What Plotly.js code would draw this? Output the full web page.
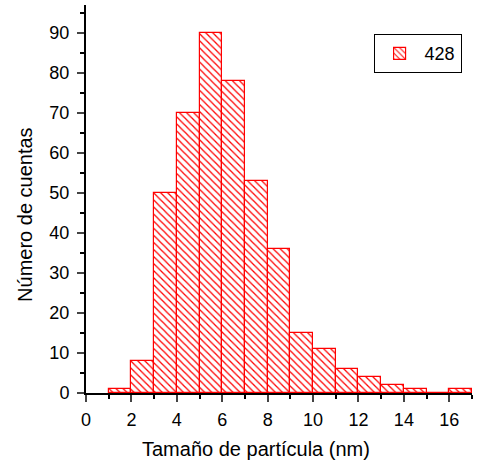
<!DOCTYPE html>
<html><head><meta charset="utf-8">
<script src="https://cdn.plot.ly/plotly-3.0.1.min.js"></script>
<style>body{margin:0;padding:0;background:#fff}</style>
</head><body><div id="chart" style="width:477px;height:467px"></div>
<script>
const binCenters = [1.5,2.5,3.5,4.5,5.5,6.5,7.5,8.5,9.5,10.5,11.5,12.5,13.5,14.5,15.5,16.5];
const counts = [1,8,50,70,90,78,53,36,15,11,6,4,2,1,0,1];
const seriesName = '428';
const xTickVals = [0,2,4,6,8,10,12,14,16];
const yTickVals = [0,10,20,30,40,50,60,70,80,90];
const xTitle = 'Tamaño de partícula (nm)';
const yTitle = 'Número de cuentas';

const trace = {
  type:'bar', x: binCenters, y: counts, width: 1, name: seriesName,
  marker:{color:'#ffffff', line:{color:'#ff0000', width:1.2},
    pattern:{shape:'\\', fgcolor:'#ff0000', bgcolor:'#ffffff', size:5, solidity:0.25}},
  showlegend:true
};
const font = {family:'Liberation Sans, Arial, sans-serif', size:18, color:'#000'};
const titleFont = {family:'Liberation Sans, Arial, sans-serif', size:20, color:'#000'};
const layout = {
  width:477, height:467,
  margin:{l:86, r:5, t:5, b:74},
  paper_bgcolor:'#fff', plot_bgcolor:'#fff',
  font: font,
  bargap:0,
  xaxis:{range:[0,17], tickvals:xTickVals, ticks:'outside', ticklen:7, tickwidth:2,
    minor:{dtick:1, tick0:0, ticks:'outside', ticklen:4, tickwidth:2, tickcolor:'#000'},
    showline:true, linecolor:'#000', linewidth:2, showgrid:false, zeroline:false,
    tickfont:font, ticklabelstandoff:2},
  yaxis:{range:[0,97], tickvals:yTickVals, ticks:'outside', ticklen:7, tickwidth:2,
    minor:{dtick:5, tick0:0, ticks:'outside', ticklen:4, tickwidth:2, tickcolor:'#000'},
    showline:true, linecolor:'#000', linewidth:2, showgrid:false, zeroline:false,
    tickfont:font, ticklabelstandoff:4},
  annotations:[
    {text:xTitle, xref:'paper', yref:'paper', x:0.44, y:-0.144, xanchor:'center', yanchor:'middle', showarrow:false, font:titleFont},
    {text:yTitle, xref:'paper', yref:'paper', x:-0.158, y:0.459, xanchor:'center', yanchor:'middle', textangle:-90, showarrow:false, font:titleFont}
  ],
  legend:{x:0.745, y:0.925, xanchor:'left', yanchor:'top', bordercolor:'#000', borderwidth:1,
    bgcolor:'#fff', font:font, itemwidth:40}
};
Plotly.newPlot('chart',[trace],layout,{displayModeBar:false});
</script></body></html>
